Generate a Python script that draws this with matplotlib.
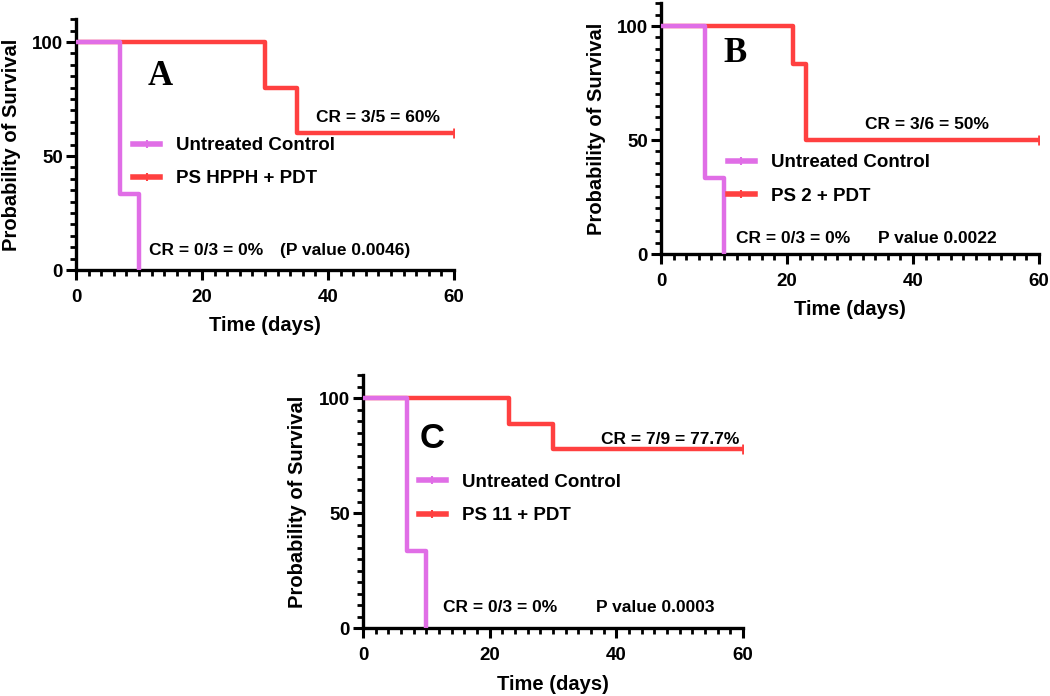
import matplotlib
matplotlib.use("Agg")
import matplotlib.pyplot as plt
from matplotlib.lines import Line2D
from matplotlib.ticker import MultipleLocator

plt.rcParams['font.family'] = ['Liberation Sans', 'DejaVu Sans']
plt.rcParams['font.weight'] = 'bold'

# Kaplan-Meier step data (time in days, survival in %)
ctrl_days = [0, 7, 10]
ctrl_surv = [100, 33.3, 0]

a_days = [0, 30, 35, 60]
a_surv = [100, 80, 60, 60]
b_days = [0, 21, 23, 60]
b_surv = [100, 83.3, 50, 50]
c_days = [0, 23, 30, 60]
c_surv = [100, 88.9, 77.8, 77.8]

ctrl_label = "Untreated Control"
a_label = "PS HPPH + PDT"
b_label = "PS 2 + PDT"
c_label = "PS 11 + PDT"

violet = "#E06EE6"
red = "#FF4040"

fig = plt.figure(figsize=(10.5, 6.96), dpi=100)

axA = fig.add_axes([0.0724, 0.612, 0.360, 0.3603])
axB = fig.add_axes([0.6295, 0.635, 0.360, 0.3603])
axC = fig.add_axes([0.3457, 0.0977, 0.362, 0.3635])


def km_panel(ax, days, surv, label, leg_xy):
    ax.step(days, surv, where='post', color=red, lw=3.2, zorder=2)
    ax.plot(days[-1], surv[-1], marker='|', color=red, ms=7, mew=2, zorder=3)
    ax.step(ctrl_days, ctrl_surv, where='post', color=violet, lw=3.2, zorder=3)

    ax.set_xlim(0, 60)
    ax.set_ylim(0, 110)
    ax.xaxis.set_major_locator(MultipleLocator(20))
    ax.xaxis.set_minor_locator(MultipleLocator(2))
    ax.set_yticks([0, 50, 100])
    ax.yaxis.set_minor_locator(MultipleLocator(5))
    for s in ['top', 'right']:
        ax.spines[s].set_visible(False)
    for s in ['left', 'bottom']:
        ax.spines[s].set_linewidth(2.4)
    ax.tick_params(which='major', length=7.5, width=2.2, labelsize=13.5, pad=6)
    ax.tick_params(axis='y', which='major', pad=2)
    ax.tick_params(which='minor', length=4.5, width=2.0)
    for t in ax.get_xticklabels() + ax.get_yticklabels():
        t.set_fontweight('bold')

    ax.set_xlabel("Time (days)", fontsize=14.5, fontweight='bold')
    ax.set_ylabel("Probability of Survival", fontsize=14.5, fontweight='bold')
    ax.xaxis.set_label_coords(0.5, -0.185)
    ax.yaxis.set_label_coords(-0.146, 0.5)

    handles = [Line2D([], [], color=violet, lw=4, marker='|', ms=6, mew=1.5),
               Line2D([], [], color=red, lw=4, marker='|', ms=6, mew=1.5)]
    ax.legend(handles, [ctrl_label, label], loc='center left', bbox_to_anchor=leg_xy,
              frameon=False, handlelength=1.45, handletextpad=0.85,
              labelspacing=0.86, borderpad=0, borderaxespad=0,
              prop={'weight': 'bold', 'size': 13.5})


km_panel(axA, a_days, a_surv, a_label, (0.151, 0.43))
km_panel(axB, b_days, b_surv, b_label, (0.177, 0.297))
km_panel(axC, c_days, c_surv, c_label, (0.147, 0.51))

txt = dict(fontsize=12.5, fontweight='bold', va='center', ha='left')
axA.text(38.1, 66.7, "CR = 3/5 = 60%", **txt)
axA.text(11.6, 8.5, "CR = 0/3 = 0%", **txt)
axA.text(32.3, 8.5, "(P value 0.0046)", **txt)
axA.text(11.4, 85, "A", fontsize=25, fontweight='bold', family='Liberation Serif',
         ha='left', va='center')

axB.text(32.4, 57, "CR = 3/6 = 50%", **txt)
axB.text(11.9, 7, "CR = 0/3 = 0%", **txt)
axB.text(34.4, 7, "P value 0.0022", **txt)
axB.text(9.9, 88, "B", fontsize=25, fontweight='bold', family='Liberation Serif',
         ha='left', va='center')

axC.text(37.6, 82, "CR = 7/9 = 77.7%", **txt)
axC.text(12.6, 8.7, "CR = 0/3 = 0%", **txt)
axC.text(36.8, 8.7, "P value 0.0003", **txt)
axC.text(9.0, 82.5, "C", fontsize=25, fontweight='bold', ha='left', va='center')

fig.savefig("out.png", dpi=100)
